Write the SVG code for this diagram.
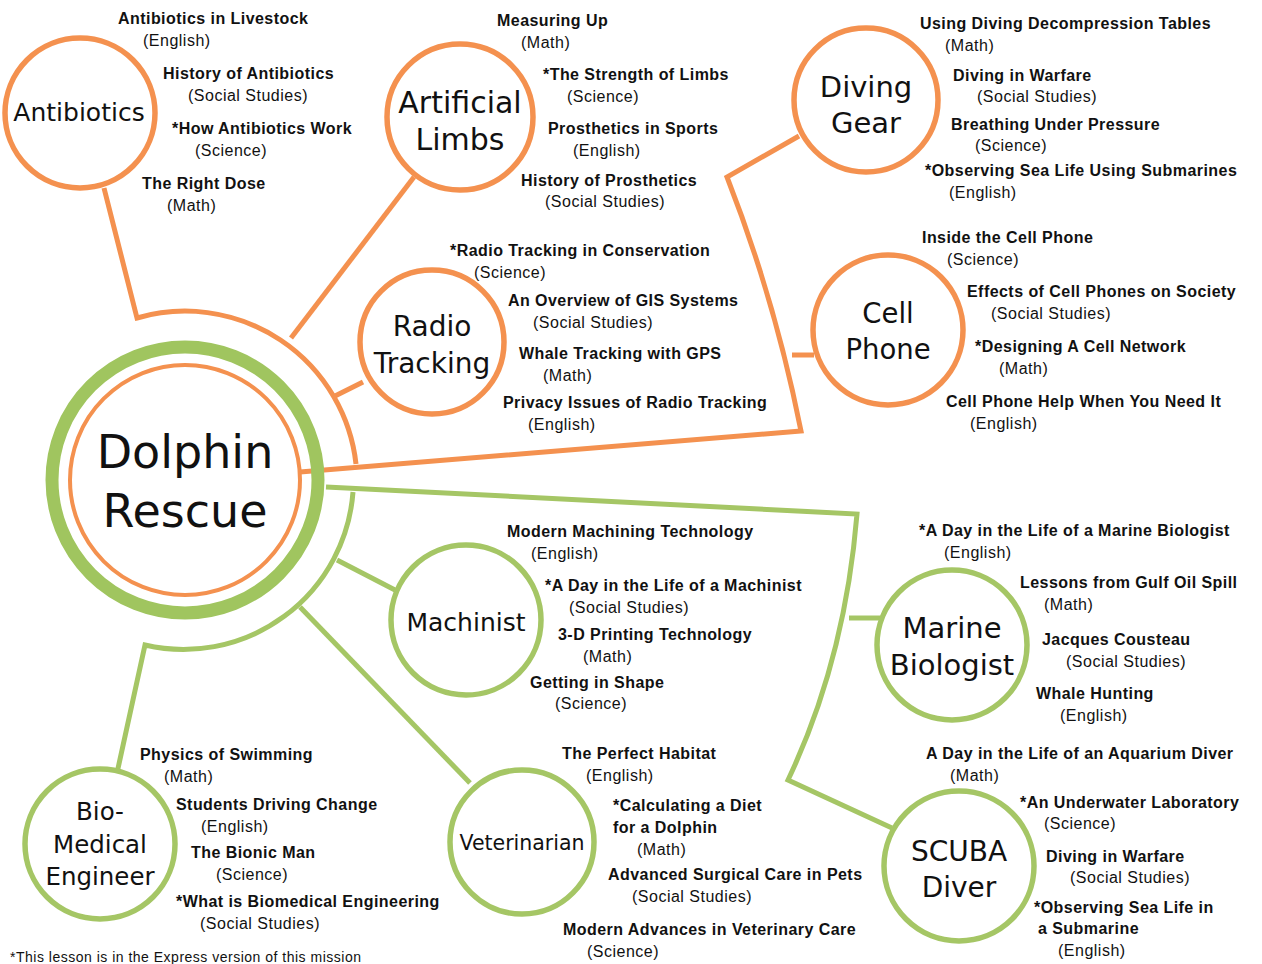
<svg xmlns="http://www.w3.org/2000/svg" width="1262" height="964" viewBox="0 0 1262 964">
<style>
.bg{fill:#ffffff}
.co{fill:none;stroke:#F4914F;stroke-width:5;stroke-linejoin:miter;stroke-linecap:butt}
.cg{fill:none;stroke:#A5C665;stroke-width:5;stroke-linejoin:miter;stroke-linecap:butt}
.no{fill:#ffffff;stroke:#F4914F;stroke-width:5.5}
.ng{fill:#ffffff;stroke:#A5C665;stroke-width:5.5}
.lbl{font-family:"DejaVu Sans","Verdana",sans-serif;fill:#111;text-anchor:middle}
.t{font-family:"Liberation Sans","Arial",sans-serif;font-weight:bold;font-size:16px;letter-spacing:0.45px;fill:#111}
.s{font-family:"Liberation Sans","Arial",sans-serif;font-size:16px;letter-spacing:0.5px;fill:#111}
.fn{font-family:"Liberation Sans","Arial",sans-serif;font-size:14px;letter-spacing:0.5px;fill:#111}
</style>
<rect class="bg" x="0" y="0" width="1262" height="964"/>

<g id="connectors">
  <path class="co" d="M104,188 L137,318 A172,172 0 0 1 356,464"/>
  <path class="co" d="M291,338 L414,177"/>
  <path class="co" d="M333,397 L363,382"/>
  <path class="co" d="M300,472 L801,431 Q775,300 727,177 L799,136"/>
  <path class="co" d="M792,355 L814,355"/>
  <path class="cg" d="M326,487 L857,514 Q845,660 788,780 L892,828"/>
  <path class="cg" d="M353,492 A170,170 0 0 1 145,645 L117,773"/>
  <path class="cg" d="M337,560 L395,590"/>
  <path class="cg" d="M300,607 L470,783"/>
  <path class="cg" d="M849,618 L880,618"/>
</g>

<g id="dolphin-rescue">
  <circle cx="185" cy="480" r="115" fill="#ffffff" stroke="#F4914F" stroke-width="4"/>
  <circle cx="185" cy="480" r="133" fill="none" stroke="#A0C55F" stroke-width="13"/>
  <text class="lbl" font-size="46"><tspan x="185" y="468">Dolphin</tspan><tspan x="185" y="527">Rescue</tspan></text>
</g>

<g id="antibiotics">
  <circle class="no" cx="80" cy="113" r="75"/>
  <text class="lbl" x="79" y="121" font-size="25">Antibiotics</text>
  <text class="t" x="118" y="24">Antibiotics in Livestock</text>
  <text class="s" x="143" y="46">(English)</text>
  <text class="t" x="163" y="79">History of Antibiotics</text>
  <text class="s" x="188" y="101">(Social Studies)</text>
  <text class="t" x="172" y="134">*How Antibiotics Work</text>
  <text class="s" x="195" y="156">(Science)</text>
  <text class="t" x="142" y="189">The Right Dose</text>
  <text class="s" x="167" y="211">(Math)</text>
</g>

<g id="artificial-limbs">
  <circle class="no" cx="460" cy="117" r="73"/>
  <text class="lbl" font-size="30"><tspan x="460" y="113">Artificial</tspan><tspan x="460" y="150">Limbs</tspan></text>
  <text class="t" x="497" y="26">Measuring Up</text>
  <text class="s" x="521" y="48">(Math)</text>
  <text class="t" x="543" y="80">*The Strength of Limbs</text>
  <text class="s" x="567" y="102">(Science)</text>
  <text class="t" x="548" y="134">Prosthetics in Sports</text>
  <text class="s" x="573" y="156">(English)</text>
  <text class="t" x="521" y="186">History of Prosthetics</text>
  <text class="s" x="545" y="207">(Social Studies)</text>
</g>

<g id="diving-gear">
  <circle class="no" cx="866" cy="100" r="72"/>
  <text class="lbl" font-size="29"><tspan x="866" y="97">Diving</tspan><tspan x="866" y="133">Gear</tspan></text>
  <text class="t" x="920" y="29">Using Diving Decompression Tables</text>
  <text class="s" x="945" y="51">(Math)</text>
  <text class="t" x="953" y="81">Diving in Warfare</text>
  <text class="s" x="977" y="102">(Social Studies)</text>
  <text class="t" x="951" y="130">Breathing Under Pressure</text>
  <text class="s" x="975" y="151">(Science)</text>
  <text class="t" x="925" y="176">*Observing Sea Life Using Submarines</text>
  <text class="s" x="949" y="198">(English)</text>
</g>

<g id="radio-tracking">
  <circle class="no" cx="432" cy="342" r="72"/>
  <text class="lbl" font-size="28"><tspan x="432" y="336">Radio</tspan><tspan x="432" y="373">Tracking</tspan></text>
  <text class="t" x="450" y="256">*Radio Tracking in Conservation</text>
  <text class="s" x="474" y="278">(Science)</text>
  <text class="t" x="508" y="306">An Overview of GIS Systems</text>
  <text class="s" x="533" y="328">(Social Studies)</text>
  <text class="t" x="519" y="359">Whale Tracking with GPS</text>
  <text class="s" x="543" y="381">(Math)</text>
  <text class="t" x="503" y="408">Privacy Issues of Radio Tracking</text>
  <text class="s" x="528" y="430">(English)</text>
</g>

<g id="cell-phone">
  <circle class="no" cx="888" cy="330" r="75"/>
  <text class="lbl" font-size="27.5"><tspan x="888" y="323">Cell</tspan><tspan x="888" y="359">Phone</tspan></text>
  <text class="t" x="922" y="243">Inside the Cell Phone</text>
  <text class="s" x="947" y="265">(Science)</text>
  <text class="t" x="967" y="297">Effects of Cell Phones on Society</text>
  <text class="s" x="991" y="319">(Social Studies)</text>
  <text class="t" x="975" y="352">*Designing A Cell Network</text>
  <text class="s" x="999" y="374">(Math)</text>
  <text class="t" x="946" y="407">Cell Phone Help When You Need It</text>
  <text class="s" x="970" y="429">(English)</text>
</g>

<g id="machinist">
  <circle class="ng" cx="466" cy="620" r="75"/>
  <text class="lbl" x="466" y="631" font-size="25">Machinist</text>
  <text class="t" x="507" y="537">Modern Machining Technology</text>
  <text class="s" x="531" y="559">(English)</text>
  <text class="t" x="545" y="591">*A Day in the Life of a Machinist</text>
  <text class="s" x="569" y="613">(Social Studies)</text>
  <text class="t" x="558" y="640">3-D Printing Technology</text>
  <text class="s" x="583" y="662">(Math)</text>
  <text class="t" x="530" y="688">Getting in Shape</text>
  <text class="s" x="555" y="709">(Science)</text>
</g>

<g id="marine-biologist">
  <circle class="ng" cx="952" cy="645" r="75"/>
  <text class="lbl" font-size="29"><tspan x="952" y="638">Marine</tspan><tspan x="952" y="675">Biologist</tspan></text>
  <text class="t" x="919" y="536">*A Day in the Life of a Marine Biologist</text>
  <text class="s" x="944" y="558">(English)</text>
  <text class="t" x="1020" y="588">Lessons from Gulf Oil Spill</text>
  <text class="s" x="1044" y="610">(Math)</text>
  <text class="t" x="1042" y="645">Jacques Cousteau</text>
  <text class="s" x="1066" y="667">(Social Studies)</text>
  <text class="t" x="1036" y="699">Whale Hunting</text>
  <text class="s" x="1060" y="721">(English)</text>
</g>

<g id="veterinarian">
  <circle class="ng" cx="522" cy="842" r="72"/>
  <text class="lbl" x="522" y="850" font-size="20.5">Veterinarian</text>
  <text class="t" x="562" y="759">The Perfect Habitat</text>
  <text class="s" x="586" y="781">(English)</text>
  <text class="t" x="613" y="811">*Calculating a Diet</text>
  <text class="t" x="613" y="833">for a Dolphin</text>
  <text class="s" x="637" y="855">(Math)</text>
  <text class="t" x="608" y="880">Advanced Surgical Care in Pets</text>
  <text class="s" x="632" y="902">(Social Studies)</text>
  <text class="t" x="563" y="935">Modern Advances in Veterinary Care</text>
  <text class="s" x="587" y="957">(Science)</text>
</g>

<g id="bio-medical-engineer">
  <circle class="ng" cx="100" cy="844" r="75"/>
  <text class="lbl" font-size="24.5"><tspan x="100" y="820">Bio-</tspan><tspan x="100" y="853">Medical</tspan><tspan x="100" y="885">Engineer</tspan></text>
  <text class="t" x="140" y="760">Physics of Swimming</text>
  <text class="s" x="164" y="782">(Math)</text>
  <text class="t" x="176" y="810">Students Driving Change</text>
  <text class="s" x="201" y="832">(English)</text>
  <text class="t" x="191" y="858">The Bionic Man</text>
  <text class="s" x="216" y="880">(Science)</text>
  <text class="t" x="176" y="907">*What is Biomedical Engineering</text>
  <text class="s" x="200" y="929">(Social Studies)</text>
</g>

<g id="scuba-diver">
  <circle class="ng" cx="959" cy="866" r="75"/>
  <text class="lbl" font-size="28"><tspan x="959" y="861">SCUBA</tspan><tspan x="959" y="897">Diver</tspan></text>
  <text class="t" x="926" y="759">A Day in the Life of an Aquarium Diver</text>
  <text class="s" x="950" y="781">(Math)</text>
  <text class="t" x="1020" y="808">*An Underwater Laboratory</text>
  <text class="s" x="1044" y="829">(Science)</text>
  <text class="t" x="1046" y="862">Diving in Warfare</text>
  <text class="s" x="1070" y="883">(Social Studies)</text>
  <text class="t" x="1034" y="913">*Observing Sea Life in</text>
  <text class="t" x="1038" y="934">a Submarine</text>
  <text class="s" x="1058" y="956">(English)</text>
</g>

<g id="footnote">
  <text class="fn" x="10" y="962">*This lesson is in the Express version of this mission</text>
</g>
</svg>
